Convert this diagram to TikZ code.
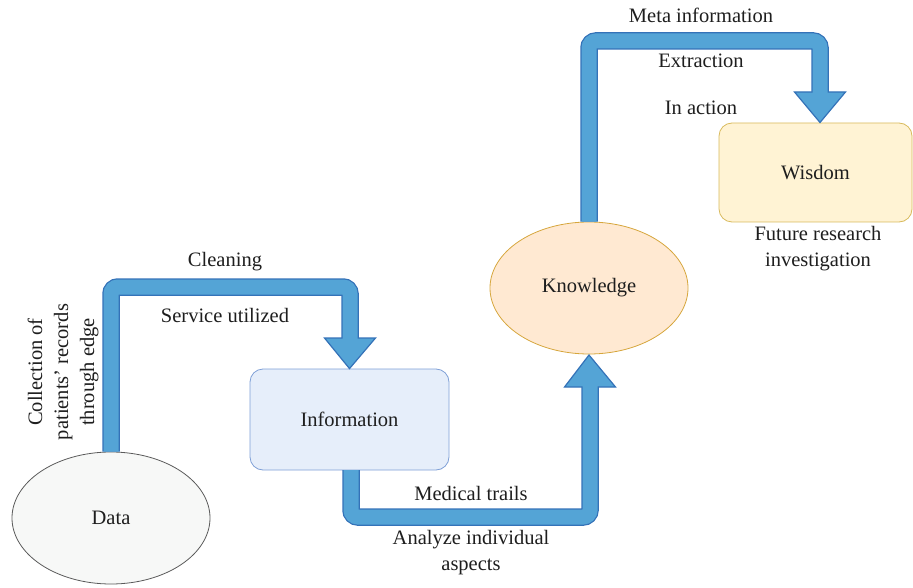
\documentclass[tikz,border=0pt]{standalone}
\usepackage{fontspec}
\setmainfont{Liberation Serif}
\usetikzlibrary{calc,shapes.geometric}
\definecolor{bandfill}{RGB}{84,164,214}
\definecolor{bandborder}{RGB}{52,114,184}
\definecolor{datafill}{RGB}{247,248,247}
\definecolor{databorder}{RGB}{90,90,90}
\definecolor{infofill}{RGB}{230,238,250}
\definecolor{infoborder}{RGB}{126,159,214}
\definecolor{knowfill}{RGB}{255,233,210}
\definecolor{knowborder}{RGB}{214,166,60}
\definecolor{wisfill}{RGB}{255,243,212}
\definecolor{wisborder}{RGB}{216,186,92}
\definecolor{txt}{RGB}{30,30,30}
\tikzset{
  lbl/.style={font=\fontsize{20.5}{26}\selectfont, text=txt, align=center, inner sep=0pt},
  ellnode/.style={ellipse, minimum width=198pt, minimum height=132pt, line width=0.8pt, lbl},
  boxnode/.style={rectangle, rounded corners=13pt, line width=0.8pt, lbl},
  bandout/.style={line width=17.5pt, draw=bandborder, rounded corners=7pt},
  bandin/.style={line width=15pt, draw=bandfill, rounded corners=7pt},
  headtri/.style={fill=bandfill, draw=bandborder, line width=1.2pt, line join=miter}
}
\begin{document}
\begin{tikzpicture}[x=1pt,y=-1pt]
\useasboundingbox (0,0) rectangle (913,588);
% nodes
\node[ellnode, draw=databorder, fill=datafill] (data) at (111,518) {Data};
\node[boxnode, draw=infoborder, fill=infofill, minimum width=199pt, minimum height=101pt] (info) at (349.5,419.5) {Information};
\node[ellnode, draw=knowborder, fill=knowfill] (know) at (589,288) {Knowledge};
\node[boxnode, draw=wisborder, fill=wisfill, minimum width=193pt, minimum height=99pt] (wis) at (815.5,172.5) {Wisdom};
% arrow 1
\coordinate (a1) at (111,287);
\coordinate (a2) at (350,287);
\coordinate (a3) at (350,338);
\coordinate (a4) at (350,340);
\draw[bandout] (data.north) -- (a1) -- (a2) -- (a3);
\draw[headtri] ($(a3)+(-25.5,0)$) -- ($(a3)+(25.5,0)$) -- (info.north) -- cycle;
\draw[bandin] (data.north) -- (a1) -- (a2) -- (a4);
% arrow 2
\coordinate (b0) at (351,470);
\coordinate (b1) at (351,517);
\coordinate (b2) at (590,517);
\coordinate (b3) at (590,387);
\coordinate (b4) at (590,385);
\coordinate (btip) at (589,355);
\draw[bandout] (b0) -- (b1) -- (b2) -- (b3);
\draw[headtri] ($(b3)+(-25.5,0)$) -- ($(b3)+(25.5,0)$) -- (btip) -- cycle;
\draw[bandin] (b0) -- (b1) -- (b2) -- (b4);
% arrow 3
\coordinate (c1) at (589,41);
\coordinate (c2) at (820,41);
\coordinate (c3) at (820,92);
\coordinate (c4) at (820,94);
\coordinate (ctip) at (820,122.5);
\draw[bandout] (know.north) -- (c1) -- (c2) -- (c3);
\draw[headtri] ($(c3)+(-25.5,0)$) -- ($(c3)+(25.5,0)$) -- (ctip) -- cycle;
\draw[bandin] (know.north) -- (c1) -- (c2) -- (c4);
% labels
\node[lbl] (lclean) at (225,262) {Cleaning};
\node[lbl] (lserv) at (225,315) {Service utilized};
\node[lbl, rotate=90] (lcoll) at (63,372) {Collection of\\patients’ records\\through edge};
\node[lbl] (lmed) at (471,493) {Medical trails};
\node[lbl] (lana) at (471,553) {Analyze individual\\aspects};
\node[lbl] (lmeta) at (701,15) {Meta information};
\node[lbl] (lext) at (701,61) {Extraction};
\node[lbl] (lact) at (701,108) {In action};
\node[lbl] (lfut) at (818,249) {Future research\\investigation};
\end{tikzpicture}
\end{document}
